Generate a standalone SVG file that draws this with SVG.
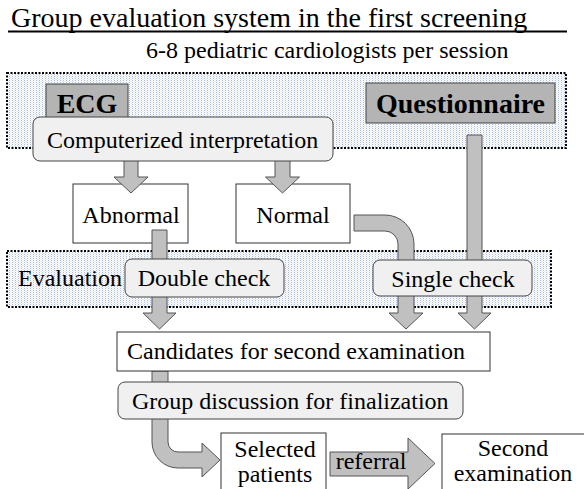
<svg xmlns="http://www.w3.org/2000/svg" width="584" height="489" viewBox="0 0 584 489">
<defs>
<pattern id="dots" width="3" height="2" patternUnits="userSpaceOnUse">
<rect width="3" height="2" fill="#ffffff"/>
<rect x="0" y="0" width="1" height="1" fill="#a9bce8"/>
<rect x="1.5" y="1" width="1" height="1" fill="#d3ddf3"/>
</pattern>
<style>
.t{font-family:"Liberation Serif","Times New Roman",serif;font-size:24px;fill:#000}
.b{font-family:"Liberation Serif","Times New Roman",serif;font-size:28px;font-weight:bold;fill:#000}
.m{text-anchor:middle}
.box{fill:#fff;stroke:#333;stroke-width:1}
.rbox{fill:#f0f0f0;stroke:#444;stroke-width:1}
.dark{fill:#b4b4b4;stroke:#444;stroke-width:1}
.arr{fill:#c0c0c0;stroke:#555;stroke-width:1;stroke-linejoin:miter}
.zone{fill:url(#dots);stroke:#000;stroke-width:2;stroke-dasharray:2 1.5}
</style>
</defs>

<g id="title">
<text class="t" x="11" y="27" style="font-size:28px">Group evaluation system in the first screening</text>
<line x1="8" y1="31.5" x2="567" y2="31.5" stroke="#000" stroke-width="2"/>
<text class="t" x="146" y="58">6-8 pediatric cardiologists per session</text>
</g>

<g id="zone-top"><rect class="zone" x="7" y="73" width="559" height="75"/></g>
<g id="zone-eval">
<rect class="zone" x="7" y="251" width="544" height="56"/>
<text class="t" x="18" y="286">Evaluation</text>
</g>

<g id="ecg"><rect class="dark" x="46" y="84" width="82" height="39"/><text class="b m" x="87" y="113">ECG</text></g>
<g id="questionnaire"><rect class="dark" x="366" y="83" width="189" height="40"/><text class="b m" x="460.5" y="113">Questionnaire</text></g>

<g id="abnormal"><rect class="box" x="73" y="184" width="115" height="59"/><text class="t m" x="131" y="223">Abnormal</text></g>
<g id="normal"><rect class="box" x="236" y="184" width="114" height="59"/><text class="t m" x="293" y="223">Normal</text></g>

<g id="connectors">
<path class="arr" d="M124,160 V177 H114 L131,193 L148,177 H138 V160 Z"/>
<path class="arr" d="M275,160 V177 H265.5 L282.5,193 L299.5,177 H290 V160 Z"/>
<path class="arr" d="M467,135 V313 H458 L474.5,329 L491,313 H482 V135 Z"/>
<path class="arr" d="M152,230 V313 H143 L159.5,329 L176,313 H167 V230 Z"/>
<path class="arr" d="M354,215 H385 A29,29 0 0 1 414,244 V313 H423 L406,329 L389,313 H398 V244 A13,13 0 0 0 385,231 H354 Z"/>
<path class="arr" d="M152,371 V442 A26,26 0 0 0 178,468 H202 V477 L220,460 L202,443 V452 H178 A10,10 0 0 1 168,442 V371 Z"/>
<path class="arr" d="M330,452 H408 V438 L435,463.5 L408,489 V476 H330 Z"/>
<text class="t m" x="371" y="469">referral</text>
</g>

<g id="computerized"><rect class="rbox" x="33" y="117" width="300" height="44" rx="7"/><text class="t" x="47" y="148">Computerized interpretation</text></g>
<g id="double-check"><rect class="rbox" x="125" y="259" width="159" height="38" rx="7"/><text class="t m" x="204" y="286">Double check</text></g>
<g id="single-check"><rect class="rbox" x="373" y="260" width="159" height="36" rx="7"/><text class="t m" x="453" y="287">Single check</text></g>
<g id="candidates"><rect class="box" x="117" y="332" width="373" height="39"/><text class="t" x="127" y="359">Candidates for second examination</text></g>
<g id="group-discussion"><rect class="rbox" x="118" y="382" width="345" height="37" rx="7"/><text class="t" x="132" y="409">Group discussion for finalization</text></g>
<g id="selected"><rect class="box" x="221" y="433" width="105" height="70"/><text class="t m" x="275" y="457">Selected</text><text class="t m" x="275" y="482">patients</text></g>
<g id="second-exam"><rect class="box" x="442" y="434" width="160" height="70"/><text class="t m" x="513" y="456">Second</text><text class="t m" x="513" y="481">examination</text></g>
</svg>
